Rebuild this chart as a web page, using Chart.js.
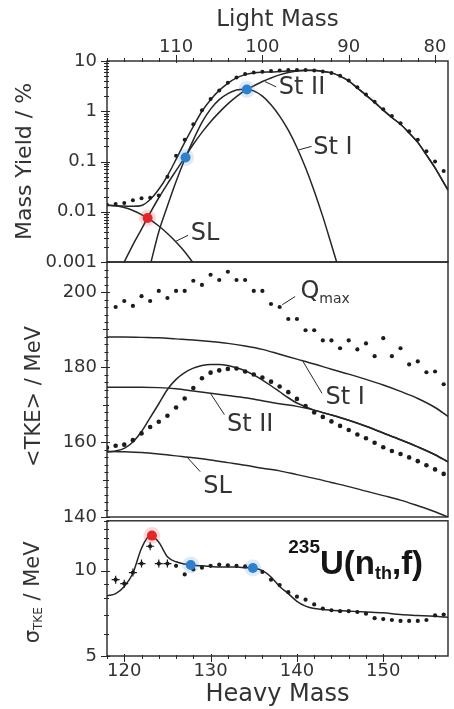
<!DOCTYPE html>
<html>
<head>
<meta charset="utf-8">
<title>235U(nth,f) fragment yields, TKE and TKE width</title>
<script src="https://cdn.jsdelivr.net/npm/chart.js@4/dist/chart.umd.min.js"></script>
<style>
  html, body { margin: 0; padding: 0; background: #ffffff; }
  #figure { position: relative; width: 454px; height: 709px; overflow: hidden; background: #ffffff; }
  #figure canvas { position: absolute; left: 0; }
</style>
</head>
<body>
<div id="figure">
  <canvas id="yieldChart" width="454" height="290" style="top:0px"></canvas>
  <canvas id="tkeChart" width="454" height="300" style="top:240px"></canvas>
  <canvas id="sigmaChart" width="454" height="209" style="top:500px"></canvas>
</div>
<script>
// ---------- axis ticks ----------
const heavyTicks = [120, 130, 140, 150];
const heavyTickLabels = ['120', '130', '140', '150'];
const lightTicks = [80, 90, 100, 110];
const lightTickLabels = ['80', '90', '100', '110'];
const yieldTicks = [0.001, 0.01, 0.1, 1, 10];
const yieldTickLabels = ['0.001', '0.01', '0.1', '1', '10'];
const tkeTicks = [140, 160, 180, 200];
const tkeTickLabels = ['140', '160', '180', '200'];
const sigmaTicks = [5, 10];
const sigmaTickLabels = ['5', '10'];

// ---------- mass yield / % ----------
const yieldCalcMass = [118,119,120,121,122,123,124,125,126,127,128,129,130,131,132,133,134,135,136,137,
  138,139,140,141,142,143,144,145,146,147,148,149,150,151,152,153,154,155,156,157,157.5];
const yieldTotalCalc = [0.0135,0.0132,0.013,0.0128,0.0133,0.0175,0.028,0.052,0.11,0.24,
  0.5,1.0,1.7,2.6,3.6,4.6,5.35,5.75,5.95,6.05,
  6.2,6.35,6.5,6.58,6.53,6.22,5.8,5.0,4.0,2.9,
  2.1,1.5,1.05,0.75,0.55,0.37,0.24,0.135,0.075,0.038,0.027];
const yieldExpMass = [118,119,120,121,122,123,124,125,126,127,128,129,130,131,132,133,134,135,136,137,
  138,139,140,141,142,143,144,145,146,147,148,149,150,151,152,153,154,155,156,157];
const yieldExp = [0.0138,0.0142,0.015,0.017,0.0185,0.019,0.021,0.05,0.13,0.27,
  0.55,1.05,1.75,2.6,3.7,4.7,5.5,5.9,6.1,6.3,
  6.5,6.6,6.6,6.6,6.5,6.2,5.8,5.1,4.1,3.0,
  2.15,1.55,1.1,0.8,0.58,0.4,0.27,0.16,0.1,0.065];
const stIMass = [123.1,124,125,126,127,128,129,130,131,132,133,134,135,136,137,138,139,140,141,142,143,144,144.6];
const stIYield = [0.001,0.004,0.013,0.04,0.11,0.27,0.6,1.1,1.7,2.25,2.65,2.75,2.55,2.0,1.35,0.8,0.42,0.19,0.075,0.026,0.008,0.0022,0.001];
const stIIMass = [120,121,122,123,124,125,126,127,128,129,130,131,132,133,134,135,136,137,138,139,
  140,141,142,143,144,145,146,147,148,149,150,151,152,153,154,155,156,157,157.5];
const stIIYield = [0.001,0.0022,0.0045,0.0095,0.019,0.036,0.066,0.12,0.22,0.38,
  0.62,0.95,1.4,1.95,2.6,3.2,3.9,4.6,5.3,5.9,
  6.3,6.5,6.5,6.2,5.8,5.0,4.0,2.9,2.1,1.5,
  1.05,0.75,0.55,0.37,0.24,0.135,0.075,0.038,0.027];
const slMass = [118,119,120,121,122,123,124,125,126,127,127.9];
const slYield = [0.0135,0.0131,0.0121,0.0106,0.0088,0.007,0.0052,0.0037,0.0025,0.0016,0.001];
const yieldRedMass = [122.7];
const yieldRedValue = [0.0075];
const yieldBlueMass = [127.1, 134.2];
const yieldBlueValue = [0.12, 2.7];

// ---------- <TKE> / MeV ----------
const tkeLineMass = [118,120,122,124,126,128,130,132,134,136,138,140,142,144,146,148,150,152,154,156,157.5];
const stITke = [188.0,188.0,187.9,187.8,187.5,187.2,186.8,186.3,185.6,184.7,183.4,182.1,180.8,179.4,178.1,176.7,175.2,173.5,171.6,169.2,166.8];
const stIITke = [174.6,174.6,174.6,174.5,174.2,173.6,173.0,172.4,171.8,171.0,170.2,169.5,168.5,167.2,165.8,164.2,162.4,160.6,158.7,156.6,154.7];
const slTke = [157.5,157.4,157.2,156.8,156.3,155.8,155.2,154.5,153.8,153.0,152.3,151.3,150.3,149.2,148.1,146.9,145.7,144.5,143.0,141.4,140.0];
const tkeTotalMass = [118,119,120,121,122,123,124,125,126,127,128,129,130,131,132,133,134,135,136,137,138,139,140,141,
  142,144,146,148,150,152,154,156,157.5];
const tkeTotalCalc = [157.3,157.6,158.3,160.0,162.8,166.5,170.2,174.0,176.7,178.5,179.7,180.4,180.7,180.7,180.4,179.8,
  179.0,177.9,176.5,175.0,173.4,171.8,170.4,169.4,
  168.5,167.2,165.8,164.2,162.4,160.6,158.7,156.6,154.7];
const tkeExpMass = [118,119,120,121,122,123,124,125,126,127,128,129,130,131,132,133,134,135,136,137,
  138,139,140,141,142,143,144,145,146,147,148,149,150,151,152,153,154,155,156,157];
const tkeExp = [158.5,159.0,159.3,160.5,162.3,164.0,165.4,167.0,169.2,171.6,
  174.4,177.0,178.5,179.1,179.5,179.6,178.8,178.0,177.2,176.1,
  174.8,173.3,171.5,169.6,167.9,166.7,165.5,164.3,163.2,162.0,
  161.0,159.8,158.6,157.6,156.8,155.9,154.9,153.8,152.7,151.5];
const qmaxMass = [119,120,121,122,123,124,125,126,127,128,129,130,131,132,133,134,135,136,137,138,
  139,140,141,142,143,144,145,146,147,148,149,150,151,152,153,154,155,156,157];
const qmax = [196.0,197.6,196.3,198.9,197.6,200.3,198.4,200.3,200.3,203.0,
  201.9,204.6,203.2,205.4,203.2,203.2,200.3,200.3,196.8,196.0,
  192.8,192.8,189.8,189.8,187.1,187.1,185.0,187.1,184.7,186.3,
  182.9,187.7,182.9,185.0,180.7,181.5,178.6,178.8,175.4];

// ---------- sigma_TKE / MeV ----------
const sigmaCalcMass = [118,119,120,121,122,123,124,125,126,127,128,129,130,131,132,133,134,135,136,137,
  138,139,140,141,142,143,144,146,148,150,152,154,156,157.5];
const sigmaCalc = [8.15,8.3,8.8,9.8,12.0,13.3,12.6,11.2,10.75,10.55,
  10.45,10.4,10.35,10.3,10.3,10.3,10.25,10.2,10.0,9.5,
  8.8,8.3,7.8,7.5,7.35,7.3,7.25,7.2,7.15,7.1,7.0,6.95,6.9,6.85];
const sigmaExpMass = [119,120,121,122,123,124,125,126,127,128,129,130,131,132,133,134,135,136,137,138,
  139,140,141,142,143,144,145,146,147,148,149,150,151,152,153,154,155,156,157];
const sigmaExp = [9.3,9.0,9.85,10.6,12.2,10.6,10.6,10.4,9.7,10.1,
  10.25,10.4,10.5,10.45,10.4,10.35,10.3,9.9,9.3,8.9,
  8.4,8.1,7.9,7.6,7.35,7.25,7.2,7.2,7.15,7.05,
  6.8,6.75,6.7,6.65,6.65,6.65,6.7,6.95,7.0];
const sigmaRedMass = [123.2];
const sigmaRedValue = [13.3];
const sigmaBlueMass = [127.7, 134.9];
const sigmaBlueValue = [10.47, 10.22];

// ---------- styling ----------
const FONT = "'DejaVu Sans', sans-serif";
const INK = '#262626';
const TEXT = '#333333';
const RED = '#e3262b';
const BLUE = '#2f80cc';
const PLOT_LEFT = 107;
Chart.defaults.font.family = FONT;
Chart.defaults.color = TEXT;
Chart.defaults.animation = false;

const pts = (xs, ys) => xs.map((x, i) => ({ x: x, y: ys[i] }));
const curve = (xs, ys) => ({
  data: pts(xs, ys), borderColor: INK, borderWidth: 1.5, pointRadius: 0,
  fill: false, cubicInterpolationMode: 'monotone'
});
const dots = (xs, ys, r, style) => ({
  data: pts(xs, ys), showLine: false, pointRadius: r, pointStyle: style || 'circle',
  pointBackgroundColor: '#1c1c1c', pointBorderColor: '#1c1c1c', pointBorderWidth: style ? 1.2 : 0
});
const markers = (xs, ys, color, halo) => ({
  data: pts(xs, ys), showLine: false, pointRadius: halo ? 8.5 : 5,
  pointBackgroundColor: color, pointBorderWidth: 0
});

const labelFor = (ticks, labels) => (v) => {
  const i = ticks.findIndex(t => Math.abs(t - v) < 1e-9);
  return i < 0 ? '' : labels[i];
};
const fixedTicks = (ticks) => (scale) => { scale.ticks = ticks.map(v => ({ value: v })); };

function yAxis(type, min, max, ticks, labels) {
  return {
    type: type, position: 'left', min: min, max: max,
    grid: { display: false, drawTicks: false }, border: { display: false },
    ticks: { font: { size: 18 }, color: TEXT, padding: 10, autoSkip: false,
             callback: labelFor(ticks, labels) },
    afterBuildTicks: fixedTicks(ticks),
    afterFit: (s) => { s.width = PLOT_LEFT; }
  };
}
function hiddenX() {
  return { type: 'linear', min: 118, max: 157.5, display: false };
}

// ---------- drawing helpers ----------
function strokeFrame(chart) {
  const { ctx, chartArea: a } = chart;
  ctx.save();
  ctx.strokeStyle = INK; ctx.lineWidth = 1.4;
  ctx.strokeRect(a.left, a.top, a.right - a.left, a.bottom - a.top);
  ctx.restore();
}
function leftTicks(chart, scale, values, outLen, inLen) {
  const { ctx, chartArea: a } = chart;
  ctx.save(); ctx.strokeStyle = INK; ctx.lineWidth = 1;
  ctx.beginPath();
  values.forEach(v => {
    const y = Math.round(scale.getPixelForValue(v)) + 0.5;
    if (y < a.top - 1 || y > a.bottom + 1) return;
    ctx.moveTo(a.left - outLen, y); ctx.lineTo(a.left + inLen, y);
  });
  ctx.stroke(); ctx.restore();
}
function edgeTicks(chart, scale, values, edgeY, dir, outLen, inLen) {
  const { ctx, chartArea: a } = chart;
  ctx.save(); ctx.strokeStyle = INK; ctx.lineWidth = 1;
  ctx.beginPath();
  values.forEach(v => {
    const x = Math.round(scale.getPixelForValue(v)) + 0.5;
    if (x < a.left - 1 || x > a.right + 1) return;
    ctx.moveTo(x, edgeY + dir * outLen); ctx.lineTo(x, edgeY - dir * inLen);
  });
  ctx.stroke(); ctx.restore();
}
function range(from, to, step) {
  const out = [];
  for (let v = from; v <= to + 1e-9; v += step) out.push(+v.toFixed(6));
  return out;
}
// text callout anchored in data units, with a short leader line
function callout(chart, n) {
  const { ctx, scales } = chart;
  const xs = scales.x, ys = scales.y;
  ctx.save();
  ctx.strokeStyle = INK; ctx.lineWidth = 1;
  ctx.beginPath();
  ctx.moveTo(xs.getPixelForValue(n.lead[0][0]), ys.getPixelForValue(n.lead[0][1]));
  ctx.lineTo(xs.getPixelForValue(n.lead[1][0]), ys.getPixelForValue(n.lead[1][1]));
  ctx.stroke();
  const px = xs.getPixelForValue(n.x), py = ys.getPixelForValue(n.y);
  ctx.fillStyle = TEXT; ctx.textBaseline = 'middle'; ctx.textAlign = 'left';
  ctx.font = '24px ' + FONT;
  ctx.fillText(n.text, px, py);
  if (n.sub) {
    const w = ctx.measureText(n.text).width;
    ctx.font = '14px ' + FONT;
    ctx.fillText(n.sub, px + w, py + 7);
  }
  ctx.restore();
}
// rotated axis title made of runs of different sizes
function sideTitle(ctx, cx, cy, parts) {
  ctx.save();
  ctx.translate(cx, cy); ctx.rotate(-Math.PI / 2);
  ctx.fillStyle = TEXT; ctx.textBaseline = 'middle'; ctx.textAlign = 'left';
  let total = 0;
  parts.forEach(p => { ctx.font = p.size + 'px ' + FONT; p.w = ctx.measureText(p.t).width; total += p.w; });
  let x = -total / 2;
  parts.forEach(p => { ctx.font = p.size + 'px ' + FONT; ctx.fillText(p.t, x, p.shift || 0); x += p.w; });
  ctx.restore();
}

// ---------- panel 1: mass yield ----------
const yieldNotes = [
  { text: 'St II', x: 137.9, y: 2.9, lead: [[136.3, 3.9], [137.6, 3.05]] },
  { text: 'St I', x: 141.9, y: 0.186, lead: [[140.2, 0.17], [141.7, 0.2]] },
  { text: 'SL', x: 127.7, y: 0.0036, lead: [[126.0, 0.0026], [127.4, 0.0034]] }
];
const yieldDecor = {
  id: 'yieldDecor',
  afterDraw(chart) {
    const { ctx, chartArea: a, scales } = chart;
    strokeFrame(chart);
    const minor = [];
    [0.001, 0.01, 0.1, 1].forEach(d => { for (let m = 2; m <= 9; m++) minor.push(d * m); });
    leftTicks(chart, scales.y, minor, 3, 2);
    leftTicks(chart, scales.y, yieldTicks, 6, 3);
    edgeTicks(chart, scales.xl, range(80, 118, 2), a.top, -1, 3, 1);
    edgeTicks(chart, scales.xl, lightTicks, a.top, -1, 6, 2);
    yieldNotes.forEach(n => callout(chart, n));
    sideTitle(ctx, 25, (a.top + a.bottom) / 2, [{ t: 'Mass Yield / %', size: 22 }]);
  }
};
new Chart(document.getElementById('yieldChart'), {
  type: 'line',
  data: { datasets: [
    markers(yieldRedMass, yieldRedValue, RED, false),
    markers(yieldBlueMass, yieldBlueValue, BLUE, false),
    markers(yieldRedMass, yieldRedValue, 'rgba(227,38,43,0.16)', true),
    markers(yieldBlueMass, yieldBlueValue, 'rgba(47,128,204,0.16)', true),
    dots(yieldExpMass, yieldExp, 2),
    curve(yieldCalcMass, yieldTotalCalc),
    curve(stIMass, stIYield),
    curve(stIIMass, stIIYield),
    curve(slMass, slYield)
  ] },
  options: {
    responsive: false, devicePixelRatio: 1, animation: false,
    layout: { padding: { left: 0, right: 6, top: 0, bottom: 28 }, autoPadding: false },
    plugins: { legend: { display: false }, tooltip: { enabled: false } },
    scales: {
      x: hiddenX(),
      xl: {
        type: 'linear', position: 'top', reverse: true, min: 236 - 157.5, max: 236 - 118,
        grid: { display: false, drawTicks: false }, border: { display: false },
        ticks: { font: { size: 18 }, color: TEXT, padding: 3, maxRotation: 0, autoSkip: false,
                 callback: labelFor(lightTicks, lightTickLabels) },
        afterBuildTicks: fixedTicks(lightTicks),
        title: { display: true, text: 'Light Mass', font: { size: 23 }, color: TEXT, padding: { top: 6, bottom: 0 } },
        afterFit: (s) => { s.height = 61; }
      },
      y: yAxis('logarithmic', 0.001, 10, yieldTicks, yieldTickLabels)
    }
  },
  plugins: [yieldDecor]
});

// ---------- panel 2: <TKE> ----------
const tkeNotes = [
  { text: 'Q', sub: 'max', x: 140.4, y: 200.0, lead: [[138.3, 196.6], [139.8, 198.8]] },
  { text: 'St I', x: 143.3, y: 171.9, lead: [[140.7, 181.5], [142.9, 173.0]] },
  { text: 'St II', x: 131.9, y: 164.6, lead: [[130.0, 172.9], [131.6, 167.3]] },
  { text: 'SL', x: 129.15, y: 148.0, lead: [[127.3, 155.9], [128.8, 152.1]] }
];
const tkeDecor = {
  id: 'tkeDecor',
  afterDraw(chart) {
    const { ctx, chartArea: a, scales } = chart;
    strokeFrame(chart);
    leftTicks(chart, scales.y, range(140, 208, 2), 2.5, 1.5);
    leftTicks(chart, scales.y, range(150, 200, 10), 4, 2);
    leftTicks(chart, scales.y, tkeTicks, 6, 3);
    tkeNotes.forEach(n => callout(chart, n));
    sideTitle(ctx, 35, (a.top + a.bottom) / 2 + 7, [{ t: '<TKE> / MeV', size: 21 }]);
  }
};
new Chart(document.getElementById('tkeChart'), {
  type: 'line',
  data: { datasets: [
    dots(qmaxMass, qmax, 2.1),
    dots(tkeExpMass, tkeExp, 2.3),
    curve(tkeTotalMass, tkeTotalCalc),
    curve(tkeLineMass, stITke),
    curve(tkeLineMass, stIITke),
    curve(tkeLineMass, slTke)
  ] },
  options: {
    responsive: false, devicePixelRatio: 1, animation: false,
    layout: { padding: { left: 0, right: 6, top: 22, bottom: 23 }, autoPadding: false },
    plugins: { legend: { display: false }, tooltip: { enabled: false } },
    scales: {
      x: hiddenX(),
      y: yAxis('linear', 140, 208, tkeTicks, tkeTickLabels)
    }
  },
  plugins: [tkeDecor]
});

// ---------- panel 3: sigma_TKE ----------
const reaction = { x: 139.0, y: 9.7 };
const sigmaDecor = {
  id: 'sigmaDecor',
  afterDraw(chart) {
    const { ctx, chartArea: a, scales } = chart;
    strokeFrame(chart);
    leftTicks(chart, scales.y, [6, 7, 8, 9, 11, 12, 13, 14, 15], 3, 2);
    leftTicks(chart, scales.y, sigmaTicks, 6, 3);
    edgeTicks(chart, scales.x, range(118, 157, 2), a.bottom, 1, 3, 1);
    edgeTicks(chart, scales.x, heavyTicks, a.bottom, 1, 6, 2);
    // reaction label
    const px = scales.x.getPixelForValue(reaction.x), py = scales.y.getPixelForValue(reaction.y);
    ctx.save();
    ctx.fillStyle = '#151515'; ctx.textBaseline = 'alphabetic'; ctx.textAlign = 'left';
    let x = px;
    const run = (t, size, dy) => {
      ctx.font = 'bold ' + size + "px 'Liberation Sans', sans-serif";
      ctx.fillText(t, x, py + dy);
      x += ctx.measureText(t).width;
    };
    run('235', 19, -21);
    run('U(n', 33, 0);
    run('th', 18, 5);
    run(',f)', 33, 0);
    ctx.restore();
    sideTitle(ctx, 34, (a.top + a.bottom) / 2 + 4, [
      { t: 'σ', size: 21 }, { t: 'TKE', size: 12, shift: 5 }, { t: ' / MeV', size: 21 }
    ]);
  }
};
new Chart(document.getElementById('sigmaChart'), {
  type: 'line',
  data: { datasets: [
    markers(sigmaRedMass, sigmaRedValue, RED, false),
    markers(sigmaBlueMass, sigmaBlueValue, BLUE, false),
    markers(sigmaRedMass, sigmaRedValue, 'rgba(227,38,43,0.16)', true),
    markers(sigmaBlueMass, sigmaBlueValue, 'rgba(47,128,204,0.16)', true),
    dots(sigmaExpMass.slice(0, 7), sigmaExp.slice(0, 7), 4, 'cross'),
    dots(sigmaExpMass, sigmaExp, 2.1),
    curve(sigmaCalcMass, sigmaCalc)
  ] },
  options: {
    responsive: false, devicePixelRatio: 1, animation: false,
    layout: { padding: { left: 0, right: 6, top: 17, bottom: 0 }, autoPadding: false },
    plugins: { legend: { display: false }, tooltip: { enabled: false } },
    scales: {
      x: {
        type: 'linear', position: 'bottom', min: 118, max: 157.5,
        grid: { display: false, drawTicks: false }, border: { display: false },
        ticks: { font: { size: 18 }, color: TEXT, padding: 5, maxRotation: 0, autoSkip: false,
                 callback: labelFor(heavyTicks, heavyTickLabels) },
        afterBuildTicks: fixedTicks(heavyTicks),
        title: { display: true, text: 'Heavy Mass', font: { size: 24 }, color: TEXT, padding: { top: 0, bottom: 0 } },
        afterFit: (s) => { s.height = 53; }
      },
      y: yAxis('logarithmic', 5, 15, sigmaTicks, sigmaTickLabels)
    }
  },
  plugins: [sigmaDecor]
});
</script>
</body>
</html>
